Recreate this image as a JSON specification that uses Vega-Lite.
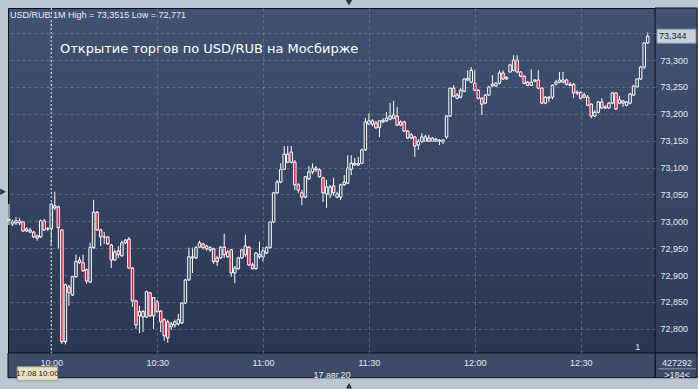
{
  "$schema": "https://vega.github.io/schema/vega-lite/v6.json",
  "width": 647,
  "height": 345,
  "autosize": "none",
  "padding": {"left": 8, "top": 8, "right": 43, "bottom": 36},
  "background": "#bcc6d3",
  "config": {
    "font": "Liberation Sans",
    "view": {
      "fill": {"gradient": "linear", "x1": 0, "y1": 0, "x2": 0, "y2": 1, "stops": [{"offset": 0, "color": "#415272"}, {"offset": 1, "color": "#2b3652"}]},
      "stroke": "#0c0f16",
      "strokeWidth": 1
    },
    "axis": {
      "labelFont": "Liberation Sans",
      "labelFontSize": 9,
      "labelColor": "#e4e9f1",
      "ticks": false,
      "domain": false,
      "grid": true,
      "gridColor": "#7284a6",
      "gridOpacity": 0.6,
      "gridDash": [3, 3],
      "gridWidth": 1,
      "labelPadding": 5
    },
    "axisY": {
      "tickCount": 13,
      "labelOverlap": false,
      "labelFlush": false
    }
  },
  "datasets": {
    "candles": [
      {"t":"2020-08-17T09:48","o":73.001,"h":73.032,"l":72.993,"c":73.004},
      {"t":"2020-08-17T09:49","o":72.995,"h":73.003,"l":72.991,"c":72.999},
      {"t":"2020-08-17T09:50","o":72.997,"h":73.008,"l":72.993,"c":73.001},
      {"t":"2020-08-17T09:51","o":72.997,"h":73.006,"l":72.993,"c":73.001},
      {"t":"2020-08-17T09:52","o":72.999,"h":73.001,"l":72.980,"c":72.982},
      {"t":"2020-08-17T09:53","o":72.986,"h":72.989,"l":72.980,"c":72.982},
      {"t":"2020-08-17T09:54","o":72.984,"h":72.988,"l":72.978,"c":72.980},
      {"t":"2020-08-17T09:55","o":72.980,"h":72.982,"l":72.969,"c":72.971},
      {"t":"2020-08-17T09:56","o":72.973,"h":72.975,"l":72.964,"c":72.969},
      {"t":"2020-08-17T09:57","o":72.971,"h":73.003,"l":72.969,"c":73.001},
      {"t":"2020-08-17T09:58","o":73.001,"h":73.004,"l":72.982,"c":72.984},
      {"t":"2020-08-17T09:59","o":72.986,"h":72.989,"l":72.982,"c":72.987},
      {"t":"2020-08-17T10:00","o":72.986,"h":73.034,"l":72.954,"c":73.032},
      {"t":"2020-08-17T10:01","o":73.025,"h":73.055,"l":73.021,"c":73.029},
      {"t":"2020-08-17T10:02","o":73.027,"h":73.029,"l":72.949,"c":72.988},
      {"t":"2020-08-17T10:03","o":72.984,"h":72.986,"l":72.772,"c":72.776},
      {"t":"2020-08-17T10:04","o":72.776,"h":72.884,"l":72.771,"c":72.882},
      {"t":"2020-08-17T10:05","o":72.878,"h":72.882,"l":72.843,"c":72.867},
      {"t":"2020-08-17T10:06","o":72.863,"h":72.898,"l":72.861,"c":72.897},
      {"t":"2020-08-17T10:07","o":72.897,"h":72.938,"l":72.895,"c":72.925},
      {"t":"2020-08-17T10:08","o":72.928,"h":72.934,"l":72.921,"c":72.923},
      {"t":"2020-08-17T10:09","o":72.923,"h":72.938,"l":72.906,"c":72.908},
      {"t":"2020-08-17T10:10","o":72.910,"h":72.912,"l":72.884,"c":72.889},
      {"t":"2020-08-17T10:11","o":72.887,"h":72.960,"l":72.885,"c":72.951},
      {"t":"2020-08-17T10:12","o":72.951,"h":73.040,"l":72.949,"c":73.017},
      {"t":"2020-08-17T10:13","o":73.017,"h":73.019,"l":72.982,"c":72.984},
      {"t":"2020-08-17T10:14","o":72.984,"h":72.986,"l":72.954,"c":72.971},
      {"t":"2020-08-17T10:15","o":72.971,"h":72.980,"l":72.958,"c":72.971},
      {"t":"2020-08-17T10:16","o":72.971,"h":72.973,"l":72.956,"c":72.958},
      {"t":"2020-08-17T10:17","o":72.956,"h":72.958,"l":72.913,"c":72.928},
      {"t":"2020-08-17T10:18","o":72.928,"h":72.947,"l":72.926,"c":72.943},
      {"t":"2020-08-17T10:19","o":72.945,"h":72.954,"l":72.932,"c":72.938},
      {"t":"2020-08-17T10:20","o":72.936,"h":72.964,"l":72.934,"c":72.960},
      {"t":"2020-08-17T10:21","o":72.960,"h":72.967,"l":72.958,"c":72.965},
      {"t":"2020-08-17T10:22","o":72.967,"h":72.971,"l":72.912,"c":72.913},
      {"t":"2020-08-17T10:23","o":72.913,"h":72.915,"l":72.841,"c":72.852},
      {"t":"2020-08-17T10:24","o":72.852,"h":72.854,"l":72.800,"c":72.807},
      {"t":"2020-08-17T10:25","o":72.832,"h":72.843,"l":72.792,"c":72.824},
      {"t":"2020-08-17T10:26","o":72.822,"h":72.835,"l":72.794,"c":72.832},
      {"t":"2020-08-17T10:27","o":72.822,"h":72.871,"l":72.820,"c":72.869},
      {"t":"2020-08-17T10:28","o":72.867,"h":72.869,"l":72.822,"c":72.824},
      {"t":"2020-08-17T10:29","o":72.824,"h":72.859,"l":72.800,"c":72.858},
      {"t":"2020-08-17T10:30","o":72.850,"h":72.854,"l":72.830,"c":72.832},
      {"t":"2020-08-17T10:31","o":72.833,"h":72.835,"l":72.794,"c":72.813},
      {"t":"2020-08-17T10:32","o":72.817,"h":72.820,"l":72.778,"c":72.787},
      {"t":"2020-08-17T10:33","o":72.813,"h":72.817,"l":72.774,"c":72.783},
      {"t":"2020-08-17T10:34","o":72.804,"h":72.813,"l":72.798,"c":72.809},
      {"t":"2020-08-17T10:35","o":72.807,"h":72.817,"l":72.802,"c":72.813},
      {"t":"2020-08-17T10:36","o":72.809,"h":72.828,"l":72.806,"c":72.817},
      {"t":"2020-08-17T10:37","o":72.811,"h":72.850,"l":72.809,"c":72.848},
      {"t":"2020-08-17T10:38","o":72.848,"h":72.893,"l":72.846,"c":72.891},
      {"t":"2020-08-17T10:39","o":72.891,"h":72.951,"l":72.889,"c":72.934},
      {"t":"2020-08-17T10:40","o":72.932,"h":72.951,"l":72.904,"c":72.934},
      {"t":"2020-08-17T10:41","o":72.932,"h":72.954,"l":72.930,"c":72.951},
      {"t":"2020-08-17T10:42","o":72.952,"h":72.964,"l":72.951,"c":72.960},
      {"t":"2020-08-17T10:43","o":72.958,"h":72.960,"l":72.947,"c":72.951},
      {"t":"2020-08-17T10:44","o":72.954,"h":72.956,"l":72.945,"c":72.949},
      {"t":"2020-08-17T10:45","o":72.951,"h":72.954,"l":72.943,"c":72.947},
      {"t":"2020-08-17T10:46","o":72.949,"h":72.951,"l":72.921,"c":72.925},
      {"t":"2020-08-17T10:47","o":72.932,"h":72.936,"l":72.917,"c":72.925},
      {"t":"2020-08-17T10:48","o":72.932,"h":72.954,"l":72.930,"c":72.952},
      {"t":"2020-08-17T10:49","o":72.952,"h":72.977,"l":72.932,"c":72.938},
      {"t":"2020-08-17T10:50","o":72.934,"h":72.947,"l":72.932,"c":72.943},
      {"t":"2020-08-17T10:51","o":72.947,"h":72.949,"l":72.897,"c":72.904},
      {"t":"2020-08-17T10:52","o":72.904,"h":72.917,"l":72.885,"c":72.913},
      {"t":"2020-08-17T10:53","o":72.912,"h":72.934,"l":72.910,"c":72.932},
      {"t":"2020-08-17T10:54","o":72.932,"h":72.949,"l":72.930,"c":72.947},
      {"t":"2020-08-17T10:55","o":72.938,"h":72.975,"l":72.934,"c":72.954},
      {"t":"2020-08-17T10:56","o":72.952,"h":72.954,"l":72.917,"c":72.919},
      {"t":"2020-08-17T10:57","o":72.919,"h":72.923,"l":72.910,"c":72.912},
      {"t":"2020-08-17T10:58","o":72.912,"h":72.943,"l":72.910,"c":72.941},
      {"t":"2020-08-17T10:59","o":72.934,"h":72.962,"l":72.930,"c":72.938},
      {"t":"2020-08-17T11:00","o":72.934,"h":72.952,"l":72.925,"c":72.945},
      {"t":"2020-08-17T11:01","o":72.941,"h":72.954,"l":72.939,"c":72.951},
      {"t":"2020-08-17T11:02","o":72.951,"h":73.001,"l":72.949,"c":72.999},
      {"t":"2020-08-17T11:03","o":72.999,"h":73.055,"l":72.997,"c":73.053},
      {"t":"2020-08-17T11:04","o":73.053,"h":73.077,"l":73.051,"c":73.073},
      {"t":"2020-08-17T11:05","o":73.073,"h":73.108,"l":73.071,"c":73.097},
      {"t":"2020-08-17T11:06","o":73.097,"h":73.140,"l":73.096,"c":73.125},
      {"t":"2020-08-17T11:07","o":73.125,"h":73.140,"l":73.108,"c":73.110},
      {"t":"2020-08-17T11:08","o":73.110,"h":73.140,"l":73.108,"c":73.129},
      {"t":"2020-08-17T11:09","o":73.110,"h":73.114,"l":73.058,"c":73.068},
      {"t":"2020-08-17T11:10","o":73.068,"h":73.071,"l":73.053,"c":73.058},
      {"t":"2020-08-17T11:11","o":73.053,"h":73.058,"l":73.030,"c":73.045},
      {"t":"2020-08-17T11:12","o":73.045,"h":73.084,"l":73.043,"c":73.083},
      {"t":"2020-08-17T11:13","o":73.079,"h":73.103,"l":73.077,"c":73.092},
      {"t":"2020-08-17T11:14","o":73.092,"h":73.108,"l":73.088,"c":73.099},
      {"t":"2020-08-17T11:15","o":73.099,"h":73.103,"l":73.092,"c":73.096},
      {"t":"2020-08-17T11:16","o":73.096,"h":73.099,"l":73.081,"c":73.083},
      {"t":"2020-08-17T11:17","o":73.081,"h":73.083,"l":73.036,"c":73.053},
      {"t":"2020-08-17T11:18","o":73.051,"h":73.077,"l":73.025,"c":73.064},
      {"t":"2020-08-17T11:19","o":73.049,"h":73.068,"l":73.043,"c":73.064},
      {"t":"2020-08-17T11:20","o":73.066,"h":73.081,"l":73.047,"c":73.053},
      {"t":"2020-08-17T11:21","o":73.045,"h":73.055,"l":73.043,"c":73.051},
      {"t":"2020-08-17T11:22","o":73.045,"h":73.070,"l":73.040,"c":73.068},
      {"t":"2020-08-17T11:23","o":73.068,"h":73.086,"l":73.066,"c":73.073},
      {"t":"2020-08-17T11:24","o":73.071,"h":73.123,"l":73.070,"c":73.099},
      {"t":"2020-08-17T11:25","o":73.097,"h":73.123,"l":73.086,"c":73.108},
      {"t":"2020-08-17T11:26","o":73.105,"h":73.118,"l":73.103,"c":73.108},
      {"t":"2020-08-17T11:27","o":73.108,"h":73.120,"l":73.103,"c":73.105},
      {"t":"2020-08-17T11:28","o":73.108,"h":73.135,"l":73.107,"c":73.133},
      {"t":"2020-08-17T11:29","o":73.133,"h":73.192,"l":73.131,"c":73.185},
      {"t":"2020-08-17T11:30","o":73.181,"h":73.201,"l":73.179,"c":73.187},
      {"t":"2020-08-17T11:31","o":73.181,"h":73.190,"l":73.177,"c":73.187},
      {"t":"2020-08-17T11:32","o":73.183,"h":73.187,"l":73.172,"c":73.174},
      {"t":"2020-08-17T11:33","o":73.175,"h":73.188,"l":73.157,"c":73.187},
      {"t":"2020-08-17T11:34","o":73.185,"h":73.192,"l":73.183,"c":73.188},
      {"t":"2020-08-17T11:35","o":73.187,"h":73.203,"l":73.185,"c":73.192},
      {"t":"2020-08-17T11:36","o":73.190,"h":73.220,"l":73.188,"c":73.196},
      {"t":"2020-08-17T11:37","o":73.192,"h":73.224,"l":73.190,"c":73.198},
      {"t":"2020-08-17T11:38","o":73.196,"h":73.213,"l":73.177,"c":73.179},
      {"t":"2020-08-17T11:39","o":73.185,"h":73.188,"l":73.177,"c":73.179},
      {"t":"2020-08-17T11:40","o":73.185,"h":73.187,"l":73.166,"c":73.168},
      {"t":"2020-08-17T11:41","o":73.168,"h":73.170,"l":73.153,"c":73.155},
      {"t":"2020-08-17T11:42","o":73.155,"h":73.164,"l":73.153,"c":73.161},
      {"t":"2020-08-17T11:43","o":73.157,"h":73.159,"l":73.120,"c":73.140},
      {"t":"2020-08-17T11:44","o":73.142,"h":73.153,"l":73.133,"c":73.149},
      {"t":"2020-08-17T11:45","o":73.148,"h":73.164,"l":73.146,"c":73.157},
      {"t":"2020-08-17T11:46","o":73.149,"h":73.161,"l":73.148,"c":73.157},
      {"t":"2020-08-17T11:47","o":73.155,"h":73.161,"l":73.148,"c":73.149},
      {"t":"2020-08-17T11:48","o":73.149,"h":73.157,"l":73.148,"c":73.155},
      {"t":"2020-08-17T11:49","o":73.149,"h":73.155,"l":73.148,"c":73.153},
      {"t":"2020-08-17T11:50","o":73.149,"h":73.153,"l":73.142,"c":73.151},
      {"t":"2020-08-17T11:51","o":73.148,"h":73.153,"l":73.144,"c":73.151},
      {"t":"2020-08-17T11:52","o":73.157,"h":73.198,"l":73.153,"c":73.196},
      {"t":"2020-08-17T11:53","o":73.196,"h":73.250,"l":73.194,"c":73.248},
      {"t":"2020-08-17T11:54","o":73.248,"h":73.253,"l":73.231,"c":73.233},
      {"t":"2020-08-17T11:55","o":73.229,"h":73.239,"l":73.227,"c":73.235},
      {"t":"2020-08-17T11:56","o":73.231,"h":73.248,"l":73.229,"c":73.244},
      {"t":"2020-08-17T11:57","o":73.242,"h":73.266,"l":73.240,"c":73.265},
      {"t":"2020-08-17T11:58","o":73.263,"h":73.281,"l":73.261,"c":73.266},
      {"t":"2020-08-17T11:59","o":73.259,"h":73.287,"l":73.257,"c":73.281},
      {"t":"2020-08-17T12:00","o":73.257,"h":73.281,"l":73.242,"c":73.244},
      {"t":"2020-08-17T12:01","o":73.244,"h":73.246,"l":73.227,"c":73.229},
      {"t":"2020-08-17T12:02","o":73.229,"h":73.231,"l":73.198,"c":73.218},
      {"t":"2020-08-17T12:03","o":73.220,"h":73.237,"l":73.218,"c":73.235},
      {"t":"2020-08-17T12:04","o":73.235,"h":73.252,"l":73.233,"c":73.250},
      {"t":"2020-08-17T12:05","o":73.252,"h":73.272,"l":73.250,"c":73.255},
      {"t":"2020-08-17T12:06","o":73.252,"h":73.259,"l":73.250,"c":73.257},
      {"t":"2020-08-17T12:07","o":73.257,"h":73.281,"l":73.255,"c":73.276},
      {"t":"2020-08-17T12:08","o":73.276,"h":73.281,"l":73.263,"c":73.265},
      {"t":"2020-08-17T12:09","o":73.265,"h":73.270,"l":73.263,"c":73.268},
      {"t":"2020-08-17T12:10","o":73.278,"h":73.293,"l":73.276,"c":73.291},
      {"t":"2020-08-17T12:11","o":73.281,"h":73.309,"l":73.279,"c":73.300},
      {"t":"2020-08-17T12:12","o":73.300,"h":73.309,"l":73.276,"c":73.278},
      {"t":"2020-08-17T12:13","o":73.278,"h":73.279,"l":73.268,"c":73.270},
      {"t":"2020-08-17T12:14","o":73.270,"h":73.272,"l":73.255,"c":73.257},
      {"t":"2020-08-17T12:15","o":73.259,"h":73.261,"l":73.252,"c":73.253},
      {"t":"2020-08-17T12:16","o":73.253,"h":73.283,"l":73.252,"c":73.259},
      {"t":"2020-08-17T12:17","o":73.261,"h":73.265,"l":73.259,"c":73.263},
      {"t":"2020-08-17T12:18","o":73.263,"h":73.281,"l":73.246,"c":73.248},
      {"t":"2020-08-17T12:19","o":73.248,"h":73.250,"l":73.218,"c":73.220},
      {"t":"2020-08-17T12:20","o":73.220,"h":73.233,"l":73.218,"c":73.231},
      {"t":"2020-08-17T12:21","o":73.229,"h":73.233,"l":73.222,"c":73.231},
      {"t":"2020-08-17T12:22","o":73.231,"h":73.255,"l":73.227,"c":73.253},
      {"t":"2020-08-17T12:23","o":73.255,"h":73.263,"l":73.253,"c":73.259},
      {"t":"2020-08-17T12:24","o":73.259,"h":73.278,"l":73.257,"c":73.263},
      {"t":"2020-08-17T12:25","o":73.259,"h":73.278,"l":73.257,"c":73.263},
      {"t":"2020-08-17T12:26","o":73.263,"h":73.265,"l":73.253,"c":73.255},
      {"t":"2020-08-17T12:27","o":73.253,"h":73.259,"l":73.252,"c":73.255},
      {"t":"2020-08-17T12:28","o":73.255,"h":73.257,"l":73.229,"c":73.239},
      {"t":"2020-08-17T12:29","o":73.239,"h":73.244,"l":73.235,"c":73.240},
      {"t":"2020-08-17T12:30","o":73.240,"h":73.242,"l":73.227,"c":73.229},
      {"t":"2020-08-17T12:31","o":73.231,"h":73.239,"l":73.229,"c":73.235},
      {"t":"2020-08-17T12:32","o":73.231,"h":73.235,"l":73.214,"c":73.216},
      {"t":"2020-08-17T12:33","o":73.218,"h":73.220,"l":73.192,"c":73.196},
      {"t":"2020-08-17T12:34","o":73.196,"h":73.207,"l":73.194,"c":73.203},
      {"t":"2020-08-17T12:35","o":73.203,"h":73.224,"l":73.201,"c":73.222},
      {"t":"2020-08-17T12:36","o":73.222,"h":73.229,"l":73.209,"c":73.211},
      {"t":"2020-08-17T12:37","o":73.211,"h":73.216,"l":73.209,"c":73.213},
      {"t":"2020-08-17T12:38","o":73.211,"h":73.222,"l":73.209,"c":73.220},
      {"t":"2020-08-17T12:39","o":73.220,"h":73.240,"l":73.218,"c":73.239},
      {"t":"2020-08-17T12:40","o":73.239,"h":73.240,"l":73.207,"c":73.209},
      {"t":"2020-08-17T12:41","o":73.220,"h":73.233,"l":73.218,"c":73.226},
      {"t":"2020-08-17T12:42","o":73.224,"h":73.226,"l":73.213,"c":73.220},
      {"t":"2020-08-17T12:43","o":73.216,"h":73.224,"l":73.214,"c":73.222},
      {"t":"2020-08-17T12:44","o":73.220,"h":73.239,"l":73.218,"c":73.237},
      {"t":"2020-08-17T12:45","o":73.235,"h":73.253,"l":73.233,"c":73.252},
      {"t":"2020-08-17T12:46","o":73.250,"h":73.266,"l":73.248,"c":73.265},
      {"t":"2020-08-17T12:47","o":73.265,"h":73.289,"l":73.263,"c":73.287},
      {"t":"2020-08-17T12:48","o":73.287,"h":73.333,"l":73.283,"c":73.332},
      {"t":"2020-08-17T12:49","o":73.332,"h":73.3515,"l":73.330,"c":73.344}
    ]
  },
  "layer": [
    {
      "data": {"values": [{}]},
      "mark": {"type": "rect", "fill": {"gradient": "linear", "x1": 0, "y1": 0, "x2": 0, "y2": 1, "stops": [{"offset": 0, "color": "#415272"}, {"offset": 1, "color": "#2f3b57"}]}, "stroke": "#0c0f16", "strokeWidth": 1},
      "encoding": {
        "x": {"datum": {"year": 2020, "month": 8, "date": 17, "hours": 12, "minutes": 51, "seconds": 4}, "type": "temporal"},
        "x2": {"datum": {"year": 2020, "month": 8, "date": 17, "hours": 13, "minutes": 3, "seconds": 0}},
        "y": {"datum": 73.397, "type": "quantitative"},
        "y2": {"datum": 72.755}
      }
    },
    {
      "data": {"values": [{}]},
      "mark": {"type": "rect", "fill": "#3d4b68", "stroke": "#0c0f16", "strokeWidth": 1},
      "encoding": {
        "x": {"datum": {"year": 2020, "month": 8, "date": 17, "hours": 12, "minutes": 51, "seconds": 4}, "type": "temporal"},
        "x2": {"datum": {"year": 2020, "month": 8, "date": 17, "hours": 13, "minutes": 3, "seconds": 0}},
        "y": {"datum": 72.755, "type": "quantitative"},
        "y2": {"datum": 72.709}
      }
    },
    {
      "data": {"values": [{}]},
      "mark": {"type": "rect", "fill": "#3d4b68", "stroke": "#0c0f16", "strokeWidth": 1},
      "encoding": {
        "x": {"datum": {"year": 2020, "month": 8, "date": 17, "hours": 9, "minutes": 47, "seconds": 44}, "type": "temporal"},
        "x2": {"datum": {"year": 2020, "month": 8, "date": 17, "hours": 12, "minutes": 51, "seconds": 4}},
        "y": {"datum": 72.755, "type": "quantitative"},
        "y2": {"datum": 72.709}
      }
    },
    {
      "data": {"values": [{}]},
      "mark": {"type": "rule", "color": "#ffffff", "strokeDash": [2, 2], "strokeWidth": 1},
      "encoding": {
        "x": {"datum": {"year": 2020, "month": 8, "date": 17, "hours": 10, "minutes": 0, "seconds": 0}, "type": "temporal"}
      }
    },
    {
      "data": {"name": "candles"},
      "mark": {"type": "rule", "color": "#ffffff", "strokeWidth": 1},
      "encoding": {
        "x": {
          "field": "t", "type": "temporal",
          "scale": {"domain": [{"year": 2020, "month": 8, "date": 17, "hours": 9, "minutes": 47, "seconds": 44}, {"year": 2020, "month": 8, "date": 17, "hours": 12, "minutes": 51, "seconds": 4}], "nice": false, "padding": 0},
          "axis": {
            "zindex": 1,
            "title": "17.авг.20",
            "titleFont": "Liberation Sans",
            "titleFontSize": 9,
            "titleFontWeight": "normal",
            "titleColor": "#e4e9f1",
            "titlePadding": 3,
            "format": "%H:%M",
            "labelFlush": false,
            "labelOverlap": false,
            "values": [
              {"year": 2020, "month": 8, "date": 17, "hours": 10, "minutes": 0},
              {"year": 2020, "month": 8, "date": 17, "hours": 10, "minutes": 30},
              {"year": 2020, "month": 8, "date": 17, "hours": 11, "minutes": 0},
              {"year": 2020, "month": 8, "date": 17, "hours": 11, "minutes": 30},
              {"year": 2020, "month": 8, "date": 17, "hours": 12, "minutes": 0},
              {"year": 2020, "month": 8, "date": 17, "hours": 12, "minutes": 30}
            ]
          }
        },
        "y": {
          "field": "l", "type": "quantitative",
          "scale": {"domain": [72.755, 73.397], "nice": false, "zero": false},
          "axis": {
            "zindex": 1,
            "orient": "right",
            "title": null,
            "tickCount": 13,
            "labelOverlap": false,
            "labelFlush": false,
            "values": [72.8, 72.85, 72.9, 72.95, 73.0, 73.05, 73.1, 73.15, 73.2, 73.25, 73.3, 73.35],
            "labelExpr": "datum.value > 73.32 ? '' : replace(format(datum.value, '.3f'), '.', ',')",
            "labelBaseline": "middle"
          }
        },
        "y2": {"field": "h"}
      }
    },
    {
      "data": {"name": "candles"},
      "mark": {"type": "bar", "width": 2.5, "stroke": "#ffffff", "strokeWidth": 1},
      "encoding": {
        "x": {"field": "t", "type": "temporal"},
        "y": {"field": "o", "type": "quantitative"},
        "y2": {"field": "c"},
        "fill": {"condition": {"test": "datum.c < datum.o", "value": "#e3143c"}, "value": "#36445f"}
      }
    },
    {
      "data": {"values": [{}]},
      "mark": {"type": "text", "text": "USD/RUB 1M High = 73,3515 Low = 72,771", "align": "left", "baseline": "middle", "fontSize": 9, "color": "#e6ebf2", "font": "Liberation Sans"},
      "encoding": {
        "x": {"datum": {"year": 2020, "month": 8, "date": 17, "hours": 9, "minutes": 48, "seconds": 18}, "type": "temporal"},
        "y": {"datum": 73.384, "type": "quantitative"}
      }
    },
    {
      "data": {"values": [{}]},
      "mark": {"type": "text", "text": "Открытие торгов по USD/RUB на Мосбирже", "align": "left", "baseline": "middle", "fontSize": 13, "color": "#ffffff", "font": "DejaVu Sans"},
      "encoding": {
        "x": {"datum": {"year": 2020, "month": 8, "date": 17, "hours": 10, "minutes": 2, "seconds": 28}, "type": "temporal"},
        "y": {"datum": 73.320, "type": "quantitative"}
      }
    },
    {
      "data": {"values": [{}]},
      "mark": {"type": "rect", "fill": "#c9d1dc", "stroke": "#8f9bb0", "strokeWidth": 1},
      "encoding": {
        "x": {"datum": {"year": 2020, "month": 8, "date": 17, "hours": 12, "minutes": 51, "seconds": 38}, "type": "temporal"},
        "x2": {"datum": {"year": 2020, "month": 8, "date": 17, "hours": 13, "minutes": 2, "seconds": 40}},
        "y": {"datum": 73.3576, "type": "quantitative"},
        "y2": {"datum": 73.3316}
      }
    },
    {
      "data": {"values": [{}]},
      "mark": {"type": "text", "text": "73,344", "align": "left", "baseline": "middle", "fontSize": 9, "color": "#1b2333", "font": "Liberation Sans"},
      "encoding": {
        "x": {"datum": {"year": 2020, "month": 8, "date": 17, "hours": 12, "minutes": 52, "seconds": 12}, "type": "temporal"},
        "y": {"datum": 73.344, "type": "quantitative"}
      }
    },
    {
      "data": {"values": [{}]},
      "mark": {"type": "rect", "fill": "#e4e1c4", "stroke": "#9a9a80", "strokeWidth": 1},
      "encoding": {
        "x": {"datum": {"year": 2020, "month": 8, "date": 17, "hours": 9, "minutes": 50, "seconds": 20}, "type": "temporal"},
        "x2": {"datum": {"year": 2020, "month": 8, "date": 17, "hours": 10, "minutes": 1, "seconds": 50}},
        "y": {"datum": 72.7294, "type": "quantitative"},
        "y2": {"datum": 72.7033}
      }
    },
    {
      "data": {"values": [{}]},
      "mark": {"type": "text", "text": "17.08 10:00", "align": "center", "baseline": "middle", "fontSize": 8, "color": "#1a1a1a", "font": "Liberation Sans"},
      "encoding": {
        "x": {"datum": {"year": 2020, "month": 8, "date": 17, "hours": 9, "minutes": 56, "seconds": 5}, "type": "temporal"},
        "y": {"datum": 72.7163, "type": "quantitative"}
      }
    },
    {
      "data": {"values": [{}]},
      "mark": {"type": "text", "text": "427292", "align": "center", "baseline": "middle", "fontSize": 9, "color": "#e4e9f1", "font": "Liberation Sans"},
      "encoding": {
        "x": {"datum": {"year": 2020, "month": 8, "date": 17, "hours": 12, "minutes": 57, "seconds": 18}, "type": "temporal"},
        "y": {"datum": 72.7368, "type": "quantitative"}
      }
    },
    {
      "data": {"values": [{}]},
      "mark": {"type": "text", "text": ">184<", "align": "center", "baseline": "middle", "fontSize": 9, "color": "#e4e9f1", "font": "Liberation Sans"},
      "encoding": {
        "x": {"datum": {"year": 2020, "month": 8, "date": 17, "hours": 12, "minutes": 57, "seconds": 18}, "type": "temporal"},
        "y": {"datum": 72.7145, "type": "quantitative"}
      }
    },
    {
      "data": {"values": [{}]},
      "mark": {"type": "rule", "color": "#8a96ad", "strokeWidth": 1},
      "encoding": {
        "x": {"datum": {"year": 2020, "month": 8, "date": 17, "hours": 12, "minutes": 52, "seconds": 0}, "type": "temporal"},
        "x2": {"datum": {"year": 2020, "month": 8, "date": 17, "hours": 13, "minutes": 2, "seconds": 40}},
        "y": {"datum": 72.7256, "type": "quantitative"}
      }
    },
    {
      "data": {"values": [{}]},
      "mark": {"type": "text", "text": "1", "align": "center", "baseline": "middle", "fontSize": 9, "color": "#dfe5ee", "font": "Liberation Sans"},
      "encoding": {
        "x": {"datum": {"year": 2020, "month": 8, "date": 17, "hours": 12, "minutes": 46, "seconds": 12}, "type": "temporal"},
        "y": {"datum": 72.7665, "type": "quantitative"}
      }
    },
    {
      "data": {"values": [{}]},
      "mark": {"type": "point", "shape": "triangle-down", "size": 40, "filled": true, "color": "#2a3346", "opacity": 1},
      "encoding": {
        "x": {"datum": {"year": 2020, "month": 8, "date": 17, "hours": 11, "minutes": 24, "seconds": 22}, "type": "temporal"},
        "y": {"datum": 73.4069, "type": "quantitative"}
      }
    },
    {
      "data": {"values": [{}]},
      "mark": {"type": "point", "shape": "triangle-up", "size": 40, "filled": true, "color": "#2a3346", "opacity": 1},
      "encoding": {
        "x": {"datum": {"year": 2020, "month": 8, "date": 17, "hours": 11, "minutes": 24, "seconds": 22}, "type": "temporal"},
        "y": {"datum": 72.694, "type": "quantitative"}
      }
    },
    {
      "data": {"values": [{}]},
      "mark": {"type": "point", "shape": "triangle-right", "size": 40, "filled": true, "color": "#2a3346", "opacity": 1},
      "encoding": {
        "x": {"datum": {"year": 2020, "month": 8, "date": 17, "hours": 9, "minutes": 46, "seconds": 19}, "type": "temporal"},
        "y": {"datum": 73.055, "type": "quantitative"}
      }
    }
  ]
}
